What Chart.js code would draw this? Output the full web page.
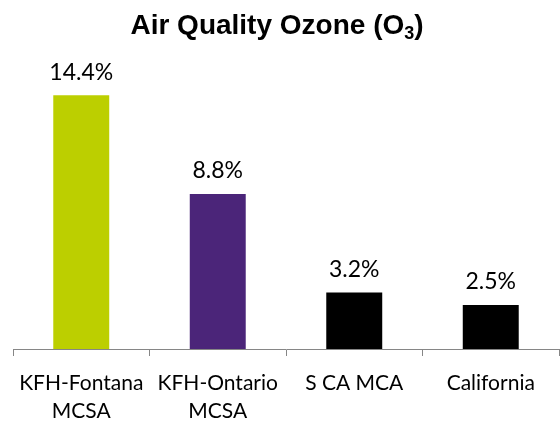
<!DOCTYPE html>
<html>
<head>
<meta charset="utf-8">
<script src="https://cdn.jsdelivr.net/npm/chart.js@4/dist/chart.umd.min.js"></script>
<style>
  html, body { margin: 0; padding: 0; background: #fff; }
  #wrap { width: 560px; height: 422px; }
</style>
</head>
<body>
<div id="wrap"><canvas id="myChart"></canvas></div>
<script>
const categories = [['KFH-Fontana', 'MCSA'], ['KFH-Ontario', 'MCSA'], 'S CA MCA', 'California'];
const ozoneValues = [14.4, 8.8, 3.2, 2.5];
const valueLabels = ['14.4%', '8.8%', '3.2%', '2.5%'];
const barColors = ['#bccf00', '#4b2579', '#000000', '#000000'];
const titleMain = 'Air Quality Ozone (O';
const titleSub = '3';
const titleEnd = ')';

const labelFont = '23px Lato, "Open Sans", sans-serif';
const titleFont = 'bold 28px "Liberation Sans", Arial, sans-serif';
const subFont = 'bold 18px "Liberation Sans", Arial, sans-serif';

// title with a real subscript 3
const titlePlugin = {
    id: 'subTitle',
    afterDraw(chart) {
        const ctx = chart.ctx;
        ctx.save();
        ctx.fillStyle = '#000';
        ctx.textBaseline = 'alphabetic';
        ctx.textAlign = 'left';
        ctx.font = titleFont;
        const w1 = ctx.measureText(titleMain).width;
        const w3 = ctx.measureText(titleEnd).width;
        ctx.font = subFont;
        const w2 = ctx.measureText(titleSub).width;
        let x = 277 - (w1 + w2 + w3) / 2;
        const y = 34;
        ctx.font = titleFont;
        ctx.fillText(titleMain, x, y);
        x += w1;
        ctx.font = subFont;
        ctx.fillText(titleSub, x, y + 5);
        x += w2;
        ctx.font = titleFont;
        ctx.fillText(titleEnd, x, y);
        ctx.restore();
    }
};

// draws the value above each bar
const valueLabelPlugin = {
    id: 'valueLabels',
    afterDatasetsDraw(chart) {
        const ctx = chart.ctx;
        const meta = chart.getDatasetMeta(0);
        ctx.save();
        ctx.font = labelFont;
        ctx.fillStyle = '#000';
        ctx.textAlign = 'center';
        ctx.textBaseline = 'middle';
        meta.data.forEach((bar, i) => {
            ctx.fillText(valueLabels[i], bar.x, bar.y - 23);
        });
        ctx.restore();
    }
};

const ctx = document.getElementById('myChart').getContext('2d');
let chart = new Chart(ctx, {
    type: 'bar',
    data: {
        labels: categories,
        datasets: [{
            data: ozoneValues,
            backgroundColor: barColors,
            categoryPercentage: 1,
            barPercentage: 0.41
        }]
    },
    options: {
        responsive: true,
        maintainAspectRatio: false,
        animation: false,
        layout: { padding: { left: 13, right: 1, top: 67, bottom: 0 } },
        plugins: {
            legend: { display: false },
            tooltip: { enabled: false },
            title: { display: false }
        },
        scales: {
            x: {
                border: { color: '#868686', width: 1 },
                grid: {
                    offset: true,
                    drawOnChartArea: false,
                    drawTicks: true,
                    tickLength: 7,
                    color: '#868686'
                },
                ticks: {
                    color: '#000',
                    padding: 13,
                    maxRotation: 0,
                    autoSkip: false,
                    font: { family: 'Lato, "Open Sans", sans-serif', size: 21, lineHeight: 1.35 }
                },
                afterFit: (scale) => { scale.height = 73; }
            },
            y: {
                display: false,
                min: 0,
                max: 16
            }
        }
    },
    plugins: [valueLabelPlugin, titlePlugin]
});
</script>
</body>
</html>
